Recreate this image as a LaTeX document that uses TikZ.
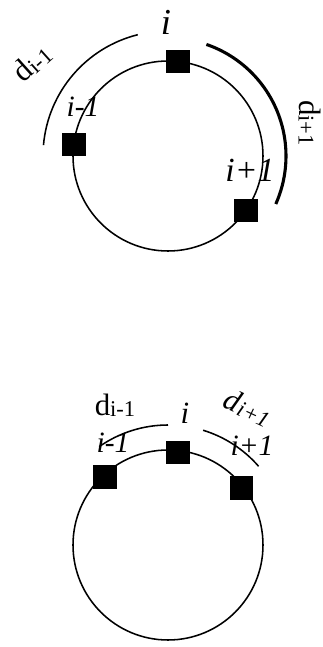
\documentclass[tikz,border=0pt]{standalone}
\usepackage{fontspec}
\setmainfont{Liberation Serif}
\usetikzlibrary{calc}

\newcommand{\dlab}[1]{d{\fontsize{16}{18}\selectfont\raisebox{-1pt}{#1}}}

\begin{document}
\begin{tikzpicture}[x=0.025cm, y=0.025cm, every node/.style={font=\fontsize{22}{24}\selectfont, inner sep=0pt},
  site/.style={draw, fill=black, minimum size=16pt, inner sep=0pt},
  ring/.style={line width=1.1pt}]
  \useasboundingbox (0,0) rectangle (323,647);
  % upper ring
  \coordinate (ctop) at (168,491);
  \draw[ring] (ctop) circle[radius=95];
  \node[site] (up0) at ($(ctop)+(84:95)$) {};
  \node[site] (upL) at ($(ctop)+(173:95)$) {};
  \node[site] (upR) at ($(ctop)+(-35:95)$) {};
  \draw[ring] ($(ctop)+(175:125)$) arc[start angle=175, end angle=104, radius=125];
  \draw[line width=2.2pt] ($(ctop)+(71:118)$) arc[start angle=71, end angle=-24, radius=118];
  \node[font=\fontsize{26}{28}\selectfont\itshape] (upi) at (166,625) {i};
  \node[font=\fontsize{21}{24}\selectfont\itshape] (upim) at (83,540) {i-1};
  \node[font=\fontsize{24}{26}\selectfont\itshape] (upip) at (250,477) {i+1};
  \node[rotate=42] (updm) at (32,584) {\dlab{i-1}};
  \node[rotate=-90] (updp) at (310,524) {\dlab{i+1}};
  % lower ring
  \coordinate (cbot) at (168,102);
  \draw[ring] (cbot) circle[radius=95];
  \node[site] (lo0) at ($(cbot)+(84:93)$) {};
  \node[site] (loL) at ($(cbot)+(133:93)$) {};
  \node[site] (loR) at ($(cbot)+(38:93)$) {};
  \draw[ring] ($(cbot)+(125:120)$) arc[start angle=125, end angle=90, radius=120];
  \draw[ring] ($(cbot)+(73:120)$) arc[start angle=73, end angle=41, radius=120];
  \node[font=\fontsize{22}{24}\selectfont\itshape] (loi) at (185,234) {i};
  \node[font=\fontsize{21}{24}\selectfont\itshape] (loim) at (113,204) {i-1};
  \node[font=\fontsize{21}{24}\selectfont\itshape] (loip) at (252,201) {i+1};
  \node (lodm) at (115,242) {\dlab{i-1}};
  \node[rotate=-25, font=\fontsize{22}{24}\selectfont\itshape] (lodp) at (248,239) {\dlab{i+1}};
\end{tikzpicture}
\end{document}
